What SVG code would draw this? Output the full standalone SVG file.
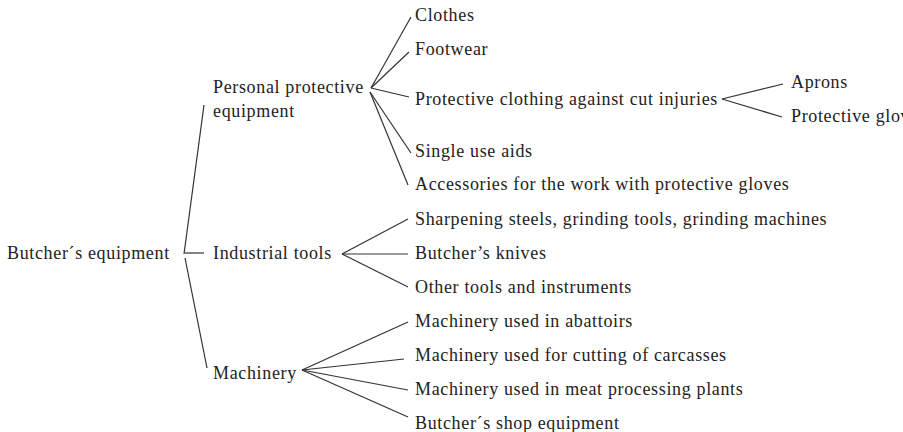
<svg xmlns="http://www.w3.org/2000/svg" width="903" height="432" viewBox="0 0 903 432">
<style>
text{font-family:"Liberation Serif","Times New Roman",serif;font-size:18px;fill:#222;letter-spacing:0.65px}
.c line{stroke:#333;stroke-width:1.2;fill:none}
</style>
<rect width="903" height="432" fill="#fff"/>
<g class="c" id="connectors">
<line x1="185" y1="253" x2="204" y2="253"/>
<line x1="184" y1="254" x2="204" y2="105"/>
<line x1="185" y1="258" x2="207" y2="368"/>
<line x1="371" y1="88" x2="411" y2="17"/>
<line x1="371" y1="88" x2="409" y2="52"/>
<line x1="371" y1="88" x2="409" y2="97"/>
<line x1="370" y1="92" x2="411" y2="153"/>
<line x1="370" y1="92" x2="408" y2="185"/>
<line x1="722" y1="99" x2="783" y2="84"/>
<line x1="722" y1="99" x2="782" y2="117"/>
<line x1="342" y1="254" x2="408" y2="219"/>
<line x1="342" y1="254" x2="408" y2="254"/>
<line x1="342" y1="254" x2="408" y2="287"/>
<line x1="302" y1="370" x2="408" y2="322"/>
<line x1="302" y1="370" x2="404" y2="359"/>
<line x1="302" y1="370" x2="408" y2="390"/>
<line x1="302" y1="370" x2="408" y2="417"/>
</g>
<g id="root"><text x="7" y="259">Butcher´s equipment</text></g>
<g id="ppe"><text x="213" y="93">Personal protective</text><text x="213" y="117">equipment</text></g>
<g id="tools"><text x="213" y="259">Industrial tools</text></g>
<g id="machinery"><text x="213" y="379">Machinery</text></g>
<g id="clothes"><text x="415" y="21">Clothes</text></g>
<g id="footwear"><text x="415" y="55">Footwear</text></g>
<g id="cut"><text x="415" y="105">Protective clothing against cut injuries</text></g>
<g id="single"><text x="415" y="157">Single use aids</text></g>
<g id="accessories"><text x="415" y="190">Accessories for the work with protective gloves</text></g>
<g id="aprons"><text x="791" y="88">Aprons</text></g>
<g id="gloves"><text x="791" y="122">Protective gloves</text></g>
<g id="sharpening"><text x="415" y="225">Sharpening steels, grinding tools, grinding machines</text></g>
<g id="knives"><text x="415" y="259">Butcher’s knives</text></g>
<g id="other"><text x="415" y="293">Other tools and instruments</text></g>
<g id="abattoirs"><text x="415" y="327">Machinery used in abattoirs</text></g>
<g id="carcasses"><text x="415" y="361">Machinery used for cutting of carcasses</text></g>
<g id="plants"><text x="415" y="395">Machinery used in meat processing plants</text></g>
<g id="shop"><text x="415" y="429">Butcher´s shop equipment</text></g>
</svg>
